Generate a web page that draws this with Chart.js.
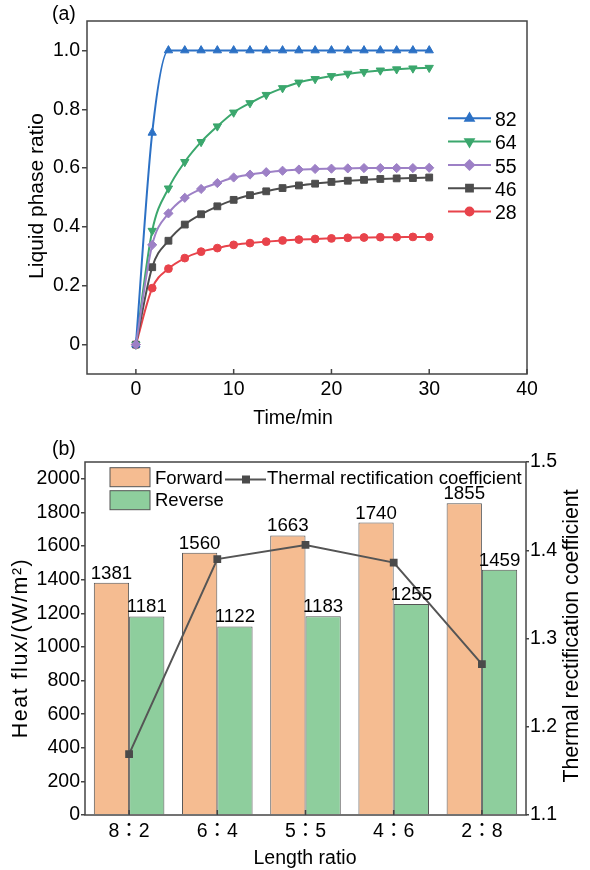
<!DOCTYPE html>
<html>
<head>
<meta charset="utf-8">
<script src="https://cdn.jsdelivr.net/npm/chart.js@4.4.1/dist/chart.umd.min.js"></script>
<style>
  html, body { margin: 0; padding: 0; background: #fff; }
  #wrapA { position: absolute; left: 0; top: 0; width: 590px; height: 430px; }
  #wrapB { position: absolute; left: 0; top: 430px; width: 590px; height: 440px; }
</style>
</head>
<body>
<div id="wrapA"><canvas id="chartA"></canvas></div>
<div id="wrapB"><canvas id="chartB"></canvas></div>
<script>
const FONT = "'Liberation Sans', Arial, 'Noto Sans CJK JP', sans-serif";
Chart.defaults.font.family = FONT;
Chart.defaults.color = "#000";

// (a) liquid phase ratio vs time
const times = [0, 1.67, 3.33, 5, 6.67, 8.33, 10, 11.67, 13.33, 15, 16.67, 18.33, 20, 21.67, 23.33, 25, 26.67, 28.33, 30];
const s82 = [0, 0.72, 1.0, 1.0, 1.0, 1.0, 1.0, 1.0, 1.0, 1.0, 1.0, 1.0, 1.0, 1.0, 1.0, 1.0, 1.0, 1.0, 1.0];
const s64 = [0, 0.387, 0.531, 0.621, 0.689, 0.742, 0.789, 0.821, 0.849, 0.872, 0.891, 0.903, 0.913, 0.921, 0.927, 0.932, 0.936, 0.939, 0.941];
const s55 = [0, 0.339, 0.446, 0.499, 0.529, 0.549, 0.568, 0.578, 0.586, 0.591, 0.595, 0.597, 0.598, 0.599, 0.600, 0.600, 0.600, 0.600, 0.601];
const s46 = [0, 0.263, 0.353, 0.408, 0.443, 0.470, 0.492, 0.508, 0.521, 0.532, 0.541, 0.547, 0.553, 0.557, 0.560, 0.563, 0.565, 0.566, 0.568];
const s28 = [0, 0.192, 0.258, 0.294, 0.316, 0.328, 0.339, 0.345, 0.350, 0.354, 0.357, 0.359, 0.361, 0.363, 0.364, 0.365, 0.365, 0.366, 0.366];
const seriesNamesA = ["82", "64", "55", "46", "28"];
const xTicksA = [0, 10, 20, 30, 40];
const yTicksA = [0, 0.2, 0.4, 0.6, 0.8, 1.0];

// (b) heat flux by length ratio
const ratios = ["8：2", "6：4", "5：5", "4：6", "2：8"];
const forward = [1381, 1560, 1663, 1740, 1855];
const reverse = [1181, 1122, 1183, 1255, 1459];
const coef = [1.169, 1.390, 1.406, 1.386, 1.271];
const yTicksB = [0, 200, 400, 600, 800, 1000, 1200, 1400, 1600, 1800, 2000];
const y1TicksB = [1.1, 1.2, 1.3, 1.4, 1.5];

const colorsA = ["#2c71c5", "#3ba76d", "#9d80c6", "#4d4d4d", "#e8434b"];
const stylesA = [
  { pointStyle: "triangle", rotation: 0, radius: 4.8 },
  { pointStyle: "triangle", rotation: 180, radius: 4.8 },
  { pointStyle: "rectRot", rotation: 0, radius: 4.6 },
  { pointStyle: "rect", rotation: 0, radius: 4.8 },
  { pointStyle: "circle", rotation: 0, radius: 3.9 }
];
const seriesA = [s82, s64, s55, s46, s28];

function rotText(ctx, text, x, y, angle, font, spacing) {
  ctx.save();
  ctx.translate(x, y);
  ctx.rotate(angle);
  ctx.font = font;
  if (spacing) ctx.letterSpacing = spacing;
  ctx.textAlign = "center";
  ctx.textBaseline = "alphabetic";
  ctx.fillText(text, 0, 0);
  ctx.restore();
}

const panelA = {
  id: "panelA",
  afterDraw(chart) {
    const ctx = chart.ctx, a = chart.chartArea;
    ctx.save();
    ctx.strokeStyle = "#444";
    ctx.lineWidth = 1.5;
    ctx.strokeRect(a.left, a.top, a.right - a.left, a.bottom - a.top);
    const xs = chart.scales.x;
    xTicksA.forEach(v => {
      const px = xs.getPixelForValue(v);
      ctx.beginPath(); ctx.moveTo(px, a.bottom); ctx.lineTo(px, a.bottom - 5); ctx.stroke();
    });
    // legend
    ctx.font = "19.5px " + FONT;
    ctx.textAlign = "left";
    ctx.textBaseline = "alphabetic";
    seriesNamesA.forEach((name, i) => {
      const y = 118.3 + i * 23.3;
      ctx.strokeStyle = colorsA[i];
      ctx.lineWidth = 2;
      ctx.beginPath(); ctx.moveTo(448, y); ctx.lineTo(491, y); ctx.stroke();
      ctx.fillStyle = colorsA[i];
      Chart.helpers.drawPoint(ctx, { pointStyle: stylesA[i].pointStyle, rotation: stylesA[i].rotation,
        radius: stylesA[i].radius, borderWidth: 1 }, 469.5, y);
      ctx.fillStyle = "#000";
      ctx.fillText(name, 495, y + 7.6);
    });
    ctx.fillStyle = "#000";
    ctx.fillText("(a)", 52, 20);
    ctx.textAlign = "center";
    ctx.fillText("Time/min", 293, 423.5);
    rotText(ctx, "Liquid phase ratio", 43, 196, -Math.PI / 2, "21px " + FONT);
    ctx.restore();
  }
};

new Chart(document.getElementById("chartA"), {
  type: "line",
  data: {
    datasets: seriesA.map((s, i) => ({
      label: seriesNamesA[i],
      data: times.map((t, j) => ({ x: t, y: s[j] })),
      borderColor: colorsA[i],
      backgroundColor: colorsA[i],
      borderWidth: 2,
      pointStyle: stylesA[i].pointStyle,
      pointRotation: stylesA[i].rotation,
      pointRadius: stylesA[i].radius,
      pointBorderWidth: 1,
      cubicInterpolationMode: "monotone",
      order: i === 2 ? 0 : 1
    }))
  },
  options: {
    responsive: true, maintainAspectRatio: false, animation: false,
    layout: { padding: { top: 21, right: 63, left: 0, bottom: 0 } },
    plugins: { legend: { display: false }, tooltip: { enabled: false } },
    scales: {
      x: {
        type: "linear", min: -5, max: 40,
        afterBuildTicks: s => { s.ticks = xTicksA.map(v => ({ value: v })); },
        afterFit: s => { s.height = 56; },
        grid: { display: false, drawTicks: false },
        border: { display: false },
        ticks: { padding: 4, font: { size: 19.5 }, color: "#000", maxRotation: 0 }
      },
      y: {
        type: "linear", min: -0.1, max: 1.1,
        afterBuildTicks: s => { s.ticks = yTicksA.map(v => ({ value: v })); },
        afterFit: s => { s.width = 87; },
        grid: { drawOnChartArea: false, tickLength: 5, color: "#444", lineWidth: 1.5 },
        border: { display: false },
        ticks: { padding: 2, font: { size: 19.5 }, color: "#000",
          callback: v => (v === 0 ? "0" : v.toFixed(1)) }
      }
    }
  },
  plugins: [panelA]
});

const orange = "#f5bc91", green = "#8ece9d", edge = "#555";

const panelB = {
  id: "panelB",
  afterDraw(chart) {
    const ctx = chart.ctx, a = chart.chartArea;
    ctx.save();
    ctx.strokeStyle = "#444";
    ctx.lineWidth = 1.5;
    ctx.strokeRect(a.left, a.top, a.right - a.left, a.bottom - a.top);
    const xs = chart.scales.x;
    ratios.forEach((r, i) => {
      const px = xs.getPixelForValue(i);
      ctx.beginPath(); ctx.moveTo(px, a.bottom); ctx.lineTo(px, a.bottom - 5); ctx.stroke();
    });
    // value labels
    ctx.fillStyle = "#000";
    ctx.font = "18.7px " + FONT;
    ctx.textAlign = "center";
    ctx.textBaseline = "alphabetic";
    [forward, reverse].forEach((vals, d) => {
      chart.getDatasetMeta(d).data.forEach((el, j) => {
        ctx.fillText(String(vals[j]), el.x, el.y - 4);
      });
    });
    // legend
    ctx.lineWidth = 1;
    ctx.strokeStyle = edge;
    ctx.fillStyle = orange;
    ctx.fillRect(110, 37.7, 40, 19); ctx.strokeRect(110, 37.7, 40, 19);
    ctx.fillStyle = green;
    ctx.fillRect(110, 60.7, 40, 19); ctx.strokeRect(110, 60.7, 40, 19);
    ctx.fillStyle = "#000";
    ctx.font = "18.5px " + FONT;
    ctx.textAlign = "left";
    ctx.fillText("Forward", 155, 54);
    ctx.fillText("Reverse", 155, 76);
    ctx.strokeStyle = "#555";
    ctx.lineWidth = 2;
    ctx.beginPath(); ctx.moveTo(225, 49.5); ctx.lineTo(266, 49.5); ctx.stroke();
    ctx.fillStyle = "#4a4a4a";
    ctx.fillRect(242, 45.5, 8, 8);
    ctx.fillStyle = "#000";
    ctx.fillText("Thermal rectification coefficient", 267, 54);
    ctx.font = "19.5px " + FONT;
    ctx.fillText("(b)", 52, 25.3);
    ctx.textAlign = "center";
    ctx.fillText("Length ratio", 305, 434.3);
    rotText(ctx, "Heat flux/(W/m²)", 27, 218, -Math.PI / 2, "21.5px " + FONT, "1.5px");
    rotText(ctx, "Thermal rectification coefficient", 578, 206, -Math.PI / 2, "21.3px " + FONT);
    ctx.restore();
  }
};

new Chart(document.getElementById("chartB"), {
  type: "bar",
  data: {
    labels: ratios,
    datasets: [
      { label: "Forward", data: forward, backgroundColor: orange, borderColor: edge, borderWidth: 1,
        barPercentage: 1, categoryPercentage: 0.8, yAxisID: "y", order: 1 },
      { label: "Reverse", data: reverse, backgroundColor: green, borderColor: edge, borderWidth: 1,
        barPercentage: 1, categoryPercentage: 0.8, yAxisID: "y", order: 1 },
      { type: "line", label: "Thermal rectification coefficient", data: coef, yAxisID: "y1",
        borderColor: "#555", backgroundColor: "#4a4a4a", borderWidth: 2, tension: 0,
        pointStyle: "rect", pointRadius: 5.5, pointBorderWidth: 0, order: 0 }
    ]
  },
  options: {
    responsive: true, maintainAspectRatio: false, animation: false,
    layout: { padding: { top: 32, right: 0, left: 0, bottom: 0 } },
    plugins: { legend: { display: false }, tooltip: { enabled: false } },
    scales: {
      x: {
        afterFit: s => { s.height = 55; },
        grid: { display: false, drawTicks: false },
        border: { display: false },
        ticks: { padding: 5, font: { size: 19.5 }, color: "#000", maxRotation: 0 }
      },
      y: {
        position: "left", min: 0, max: 2100,
        afterBuildTicks: s => { s.ticks = yTicksB.map(v => ({ value: v })); },
        afterFit: s => { s.width = 85; },
        grid: { drawOnChartArea: false, tickLength: 4, color: "#444", lineWidth: 1.5 },
        border: { display: false },
        ticks: { padding: 1, font: { size: 19.5 }, color: "#000", callback: v => String(v) }
      },
      y1: {
        position: "right", min: 1.1, max: 1.5,
        afterBuildTicks: s => { s.ticks = y1TicksB.map(v => ({ value: v })); },
        afterFit: s => { s.width = 64; },
        grid: { drawOnChartArea: false, tickLength: 3, color: "#444", lineWidth: 1.5 },
        border: { display: false },
        ticks: { padding: 1, font: { size: 19.5 }, color: "#000", callback: v => v.toFixed(1) }
      }
    }
  },
  plugins: [panelB]
});
</script>
</body>
</html>
